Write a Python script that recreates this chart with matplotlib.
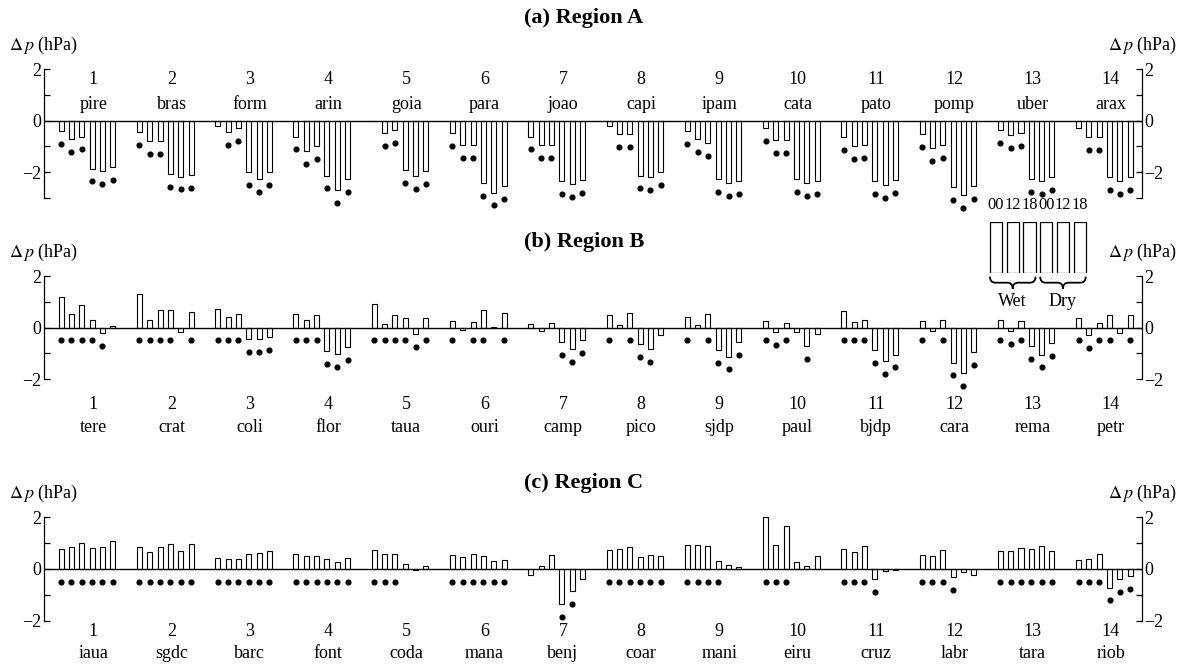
import numpy as np
import matplotlib
matplotlib.use('Agg')
import matplotlib.pyplot as plt
from matplotlib.path import Path
from matplotlib.patches import PathPatch

plt.rcParams['font.family'] = ['Liberation Serif', 'DejaVu Serif']
plt.rcParams['mathtext.fontset'] = 'stix'
plt.rcParams['axes.unicode_minus'] = True

# station names per region
names_a = ['pire', 'bras', 'form', 'arin', 'goia', 'para', 'joao',
           'capi', 'ipam', 'cata', 'pato', 'pomp', 'uber', 'arax']
names_b = ['tere', 'crat', 'coli', 'flor', 'taua', 'ouri', 'camp',
           'pico', 'sjdp', 'paul', 'bjdp', 'cara', 'rema', 'petr']
names_c = ['iaua', 'sgdc', 'barc', 'font', 'coda', 'mana', 'benj',
           'coar', 'mani', 'eiru', 'cruz', 'labr', 'tara', 'riob']

# pressure difference (hPa): wet 00/12/18 UTC, dry 00/12/18 UTC
dp_a = [[-0.42, -0.71, -0.62, -1.86, -1.97, -1.79],
        [-0.46, -0.78, -0.81, -2.06, -2.17, -2.10],
        [-0.22, -0.44, -0.28, -2.01, -2.28, -2.01],
        [-0.62, -1.18, -0.97, -2.13, -2.69, -2.28],
        [-0.02, -0.47, -0.36, -1.92, -2.14, -1.96],
        [-0.47, -0.94, -0.94, -2.42, -2.79, -2.55],
        [-0.62, -0.96, -0.94, -2.36, -2.46, -2.32],
        [-0.22, -0.53, -0.51, -2.13, -2.18, -1.99],
        [-0.40, -0.71, -0.86, -2.28, -2.42, -2.36],
        [-0.28, -0.74, -0.77, -2.27, -2.41, -2.33],
        [-0.63, -1.00, -0.94, -2.36, -2.50, -2.32],
        [-0.53, -1.06, -0.94, -2.58, -2.90, -2.55],
        [-0.36, -0.56, -0.47, -2.28, -2.36, -2.18],
        [-0.27, -0.63, -0.63, -2.18, -2.35, -2.19]]
dp_b = [[1.18, 0.53, 0.87, 0.31, -0.21, 0.04],
        [1.31, 0.31, 0.69, 0.68, -0.17, 0.59],
        [0.71, 0.42, 0.51, -0.46, -0.44, -0.38],
        [0.53, 0.31, 0.49, -0.90, -1.03, -0.77],
        [0.90, 0.14, 0.47, 0.35, -0.27, 0.36],
        [0.26, -0.10, 0.22, 0.68, 0.03, 0.56],
        [0.15, -0.13, 0.17, -0.58, -0.85, -0.49],
        [0.50, 0.10, 0.55, -0.65, -0.85, -0.28],
        [0.41, 0.10, 0.54, -0.87, -1.13, -0.55],
        [0.27, -0.18, 0.17, -0.17, -0.71, -0.26],
        [0.63, 0.22, 0.31, -0.87, -1.31, -1.05],
        [0.27, -0.14, 0.30, -1.36, -1.78, -0.96],
        [0.30, -0.15, 0.27, -0.71, -1.05, -0.60],
        [0.38, -0.31, 0.19, 0.47, -0.22, 0.50]]
dp_c = [[0.76, 0.85, 0.99, 0.80, 0.83, 1.06],
        [0.84, 0.65, 0.83, 0.94, 0.68, 0.94],
        [0.40, 0.37, 0.39, 0.57, 0.63, 0.68],
        [0.59, 0.48, 0.49, 0.37, 0.28, 0.40],
        [0.72, 0.57, 0.59, 0.18, -0.05, 0.12],
        [0.52, 0.45, 0.58, 0.50, 0.31, 0.36],
        [-0.23, 0.10, 0.54, -1.37, -0.84, -0.41],
        [0.72, 0.77, 0.84, 0.45, 0.53, 0.49],
        [0.93, 0.92, 0.90, 0.31, 0.15, 0.09],
        [1.99, 0.92, 1.64, 0.25, 0.10, 0.50],
        [0.77, 0.65, 0.90, -0.41, -0.10, -0.03],
        [0.52, 0.49, 0.72, -0.30, -0.14, -0.22],
        [0.68, 0.70, 0.81, 0.77, 0.90, 0.67],
        [0.34, 0.37, 0.59, -0.72, -0.41, -0.27]]

# significance flags (dot drawn under the bar)
sig_a = ['111111', '111111', '011111', '111111', '011111', '111111', '111111',
         '011111', '111111', '111111', '111111', '111111', '111111', '011111']
sig_b = ['111110', '111101', '111111', '111111', '111111', '101101', '000111',
         '101110', '101111', '111010', '111111', '101111', '111111', '111101']
sig_c = ['111111', '111111', '111111', '111111', '111000', '111111', '000110',
         '111111', '111100', '111000', '111100', '111100', '111111', '111111']

hours = ['00', '12', '18', '00', '12', '18']
seasons = ['Wet', 'Dry']

W, H = 1193, 669
fig = plt.figure(figsize=(W / 100, H / 100), dpi=100)

FS = 13
step = 0.132   # bar spacing inside a group
bw = 0.064     # bar width
shift = -0.08  # bars sit a little left of the group label


def brace(ax, x0, x1, y, h):
    xm = (x0 + x1) / 2.0
    q = (x1 - x0) * 0.12
    verts = [(x0, y), (x0, y - h / 2), (x0 + q, y - h / 2),
             (xm - q, y - h / 2),
             (xm, y - h / 2), (xm, y - h),
             (xm, y - h / 2), (xm + q, y - h / 2),
             (x1 - q, y - h / 2),
             (x1, y - h / 2), (x1, y)]
    codes = [Path.MOVETO, Path.CURVE3, Path.CURVE3, Path.LINETO,
             Path.CURVE3, Path.CURVE3, Path.CURVE3, Path.CURVE3,
             Path.LINETO, Path.CURVE3, Path.CURVE3]
    ax.add_patch(PathPatch(Path(verts, codes), fc='none', ec='black',
                           lw=1.3, clip_on=False))


def panel(rect, dp, sig, names, ylo, title, ytitle, ynum, yname):
    ax = fig.add_axes(rect)
    groups = np.arange(1, 15)
    for g, vals, flags in zip(groups, dp, sig):
        xs = g + shift + (np.arange(6) - 2.5) * step
        vals = np.array(vals)
        ax.bar(xs, vals, width=bw, facecolor='white', edgecolor='black',
               linewidth=0.8, zorder=2, clip_on=False)
        mask = np.array([f == '1' for f in flags])
        ax.plot(xs[mask], np.minimum(vals[mask], 0) - 0.5, 'o', color='black',
                markersize=3.4, zorder=3, clip_on=False)
    ax.axhline(0, color='black', linewidth=1.0, zorder=4)
    for g, nm in zip(groups, names):
        ax.text(g, ynum, str(g), ha='center', va='center', fontsize=FS)
        ax.text(g, yname, nm, ha='center', va='center', fontsize=FS)
    ax.set_xlim(0.367, 14.4)
    ax.set_ylim(ylo, 2)
    ax.set_yticks([-2, 0, 2])
    ax.set_yticks([v for v in range(ylo, 3) if v % 2], minor=True)
    ax.tick_params(axis='y', which='both', direction='in', length=4.5,
                   width=0.9, left=True, right=True, labelright=True,
                   labelsize=FS, pad=1.5)
    ax.set_xticks([])
    ax.spines['top'].set_visible(False)
    ax.spines['bottom'].set_visible(False)
    for s in ['left', 'right']:
        ax.spines[s].set_linewidth(0.9)
    lab = r'$\Delta\,p$ (hPa)'
    for xf in [0, 1]:
        ax.annotate(lab, xy=(xf, 1), xycoords='axes fraction',
                    xytext=(0, 17), textcoords='offset points',
                    ha='center', va='center', fontsize=FS)
    fig.text(584 / W, 1 - ytitle / H, title, ha='center', va='center',
             fontsize=16, fontweight='bold')
    return ax


x0 = 43.7 / W
wd = (1142 - 43.7) / W
panel([x0, 1 - 198 / H, wd, 129 / H], dp_a, sig_a, names_a, -3,
      '(a) Region A', 18, 1.58, 0.62)
panel([x0, 1 - 379 / H, wd, 103 / H], dp_b, sig_b, names_b, -2,
      '(b) Region B', 242, -2.99, -3.9)
panel([x0, 1 - 620.7 / H, wd, 103.7 / H], dp_c, sig_c, names_c, -2,
      '(c) Region C', 483, -2.4, -3.28)

# key for the bar order
leg = fig.add_axes([987.6 / W, 1 - 273 / H, 100.5 / W, 51 / H])
pos = np.arange(6)
leg.bar(pos, np.ones(6), width=0.72, facecolor='white', edgecolor='black',
        linewidth=0.9)
for p, hr in zip(pos, hours):
    leg.text(p, 1.33, hr, ha='center', va='center', fontsize=11.8)
brace(leg, -0.36, 2.36, -0.07, 0.24)
brace(leg, 2.64, 5.36, -0.07, 0.24)
leg.text(1.0, -0.56, seasons[0], ha='center', va='center', fontsize=FS)
leg.text(4.0, -0.56, seasons[1], ha='center', va='center', fontsize=FS)
leg.set_xlim(-0.5, 5.5)
leg.set_ylim(0, 1)
leg.axis('off')

plt.savefig('out.png', dpi=100)
